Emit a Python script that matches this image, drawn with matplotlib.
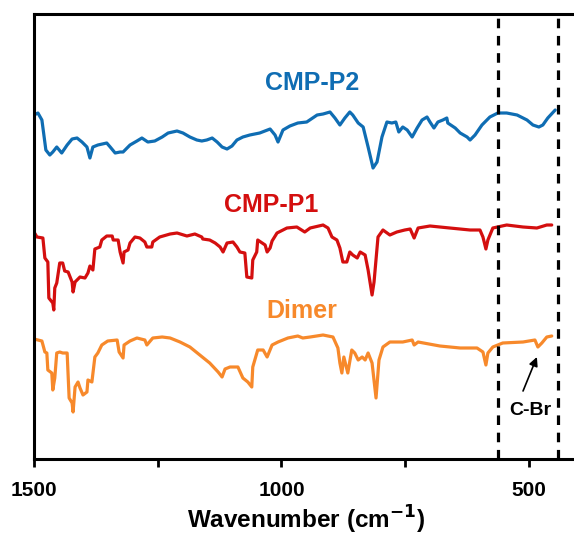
import matplotlib
matplotlib.use("Agg")
import matplotlib.pyplot as plt
from matplotlib.ticker import MultipleLocator

plt.rcParams['font.family'] = ['Liberation Sans', 'DejaVu Sans']
plt.rcParams['font.weight'] = 'bold'

# FTIR spectra (wavenumber in cm^-1, offset transmittance in arbitrary units)
p2_wn = [1500, 1492, 1484, 1476, 1468, 1462, 1454, 1444, 1433, 1423, 1413, 1403, 1393, 1387,
         1381, 1371, 1353, 1346, 1336, 1326, 1320, 1306, 1292, 1282, 1270, 1256, 1241, 1229,
         1211, 1199, 1185, 1171, 1161, 1151, 1140, 1130, 1120, 1110, 1100, 1090, 1078, 1064,
         1044, 1023, 1013, 1007, 997, 983, 967, 949, 928, 916, 902, 892, 882, 872, 862, 856,
         845, 835, 825, 815, 807, 797, 787, 777, 769, 763, 755, 746, 736, 726, 716, 706, 700,
         692, 684, 674, 666, 664, 649, 639, 625, 619, 609, 595, 579, 563, 545, 524, 504, 492,
         480, 472, 462, 447]
p2_t = [344, 346, 339, 309, 304, 307, 312, 306, 314, 320, 321, 317, 312, 301,
        312, 314, 316, 312, 306, 307, 307, 314, 318, 321, 317, 318, 322, 326,
        328, 326, 322, 319, 318, 319, 321, 317, 312, 310, 313, 319, 322, 324,
        326, 330, 324, 317, 329, 333, 336, 337, 344, 345, 347, 341, 334, 341, 347, 344,
        336, 332, 312, 291, 297, 322, 337, 336, 337, 327, 332, 329, 322, 331, 339, 342, 337,
        331, 337, 339, 341, 336, 331, 326, 322, 319, 324, 334, 342, 346, 346, 344, 339, 334,
        332, 334, 341, 349]

p1_wn = [1500, 1494, 1482, 1478, 1472, 1470, 1462, 1460, 1458, 1454, 1448, 1442, 1438, 1431,
         1423, 1421, 1417, 1407, 1397, 1391, 1387, 1381, 1377, 1367, 1363, 1353, 1342, 1340,
         1330, 1326, 1320, 1318, 1310, 1306, 1296, 1286, 1276, 1272, 1262, 1260, 1246, 1225,
         1211, 1191, 1175, 1161, 1159, 1145, 1134, 1124, 1118, 1110, 1098, 1090, 1084, 1074,
         1070, 1060, 1058, 1050, 1048, 1039, 1033, 1029, 1023, 1019, 1009, 989, 969, 953, 942,
         916, 906, 898, 888, 882, 876, 868, 862, 856, 847, 841, 831, 825, 817, 813, 805, 795,
         781, 767, 751, 740, 732, 724, 700, 660, 619, 599, 593, 587, 583, 573, 545, 512, 484,
         464, 454]
p1_t = [227, 222, 221, 201, 197, 161, 156, 149, 171, 176, 196, 196, 188, 187,
        177, 167, 177, 182, 181, 186, 193, 189, 210, 212, 219, 223, 223, 219,
        219, 207, 196, 207, 209, 216, 222, 221, 217, 212, 212, 217, 222, 225,
        226, 223, 225, 222, 220, 219, 216, 212, 207, 216, 217, 212, 207, 206,
        182, 181, 199, 207, 219, 216, 214, 207, 211, 218, 226, 231, 232, 227, 231,
        234, 231, 222, 219, 211, 197, 197, 207, 204, 201, 207, 204, 189, 164, 177, 222, 229,
        224, 227, 229, 230, 221, 231, 233, 231, 229, 229, 222, 210, 219, 231, 234, 232, 231,
        234, 234]

dimer_wn = [1500, 1484, 1478, 1474, 1472, 1464, 1462, 1458, 1454, 1448, 1442, 1433, 1429, 1423,
            1421, 1417, 1411, 1407, 1401, 1393, 1391, 1383, 1377, 1371, 1363, 1351, 1332, 1328,
            1320, 1318, 1306, 1292, 1276, 1272, 1260, 1241, 1225, 1205, 1185, 1165, 1145, 1128,
            1120, 1114, 1104, 1088, 1078, 1068, 1060, 1058, 1048, 1037, 1029, 1019, 1007, 987,
            967, 957, 942, 916, 896, 886, 882, 878, 874, 866, 858, 852, 845, 837, 831, 825, 817,
            809, 803, 795, 781, 755, 736, 732, 724, 680, 639, 605, 593, 587, 583, 573, 553, 512,
            488, 482, 474, 464, 454]
dimer_t = [120, 118, 107, 106, 89, 86, 69, 81, 106, 107, 106, 106, 61, 56,
           47, 72, 77, 71, 64, 67, 79, 77, 102, 106, 114, 118, 119, 107,
           101, 114, 118, 121, 119, 114, 121, 122, 121, 117, 112, 104, 96, 87,
           82, 90, 92, 92, 81, 77, 72, 92, 109, 109, 102, 114, 117, 121,
           123, 121, 122, 124, 122, 111, 96, 86, 102, 86, 109, 106, 99, 102, 99, 106, 96,
           61, 99, 112, 117, 117, 119, 114, 117, 113, 111, 111, 107, 94, 106, 112, 116, 117,
           119, 112, 116, 122, 123]

series_names = ["CMP-P2", "CMP-P1", "Dimer"]
series_colors = ["#0f6db3", "#d40f0f", "#f7892b"]
marker_lines = [563, 441]
xtick_major = [1500, 1000, 500]

fig = plt.figure(figsize=(5.74, 5.45), dpi=100)
ax = fig.add_axes([0.0592, 0.1578, 0.9486, 0.8165])

for wn, t, c in zip([p2_wn, p1_wn, dimer_wn], [p2_t, p1_t, dimer_t], series_colors):
    ax.plot(wn, t, color=c, lw=2.3, solid_joinstyle='round', solid_capstyle='round')

for xv in marker_lines:
    ax.axvline(xv, color='black', lw=2.3, linestyle=(0, (3.0, 2.4)))

label_pos = [(938, 376), (1021, 254), (959, 148)]
for name, c, (lx, ly) in zip(series_names, series_colors, label_pos):
    ax.text(lx, ly, name, color=c, fontsize=18, fontweight='bold',
            ha='center', va='center')

ax.annotate("", xy=(484, 102), xytext=(512, 68),
            arrowprops=dict(arrowstyle='-|>', color='black', lw=1.2,
                            mutation_scale=13, shrinkA=0, shrinkB=0))
ax.text(498, 48, "C-Br", color='black', fontsize=14, fontweight='bold',
        ha='center', va='center')

ax.set_xlim(1500, 400)
ax.set_ylim(0, 445)
ax.set_xticks(xtick_major)
ax.xaxis.set_minor_locator(MultipleLocator(250))
ax.set_yticks([])
ax.tick_params(axis='x', which='both', direction='out', length=5.5, width=2,
               labelsize=15, pad=10)
for lab in ax.get_xticklabels():
    lab.set_fontweight('bold')
ax.set_xlabel("Wavenumber (cm$^{\\mathbf{-1}}$)", fontsize=17.5, fontweight='bold', labelpad=3)

for side in ['left', 'top', 'bottom']:
    ax.spines[side].set_linewidth(2.2)
ax.spines['right'].set_visible(False)

fig.savefig("out.png", dpi=100)
